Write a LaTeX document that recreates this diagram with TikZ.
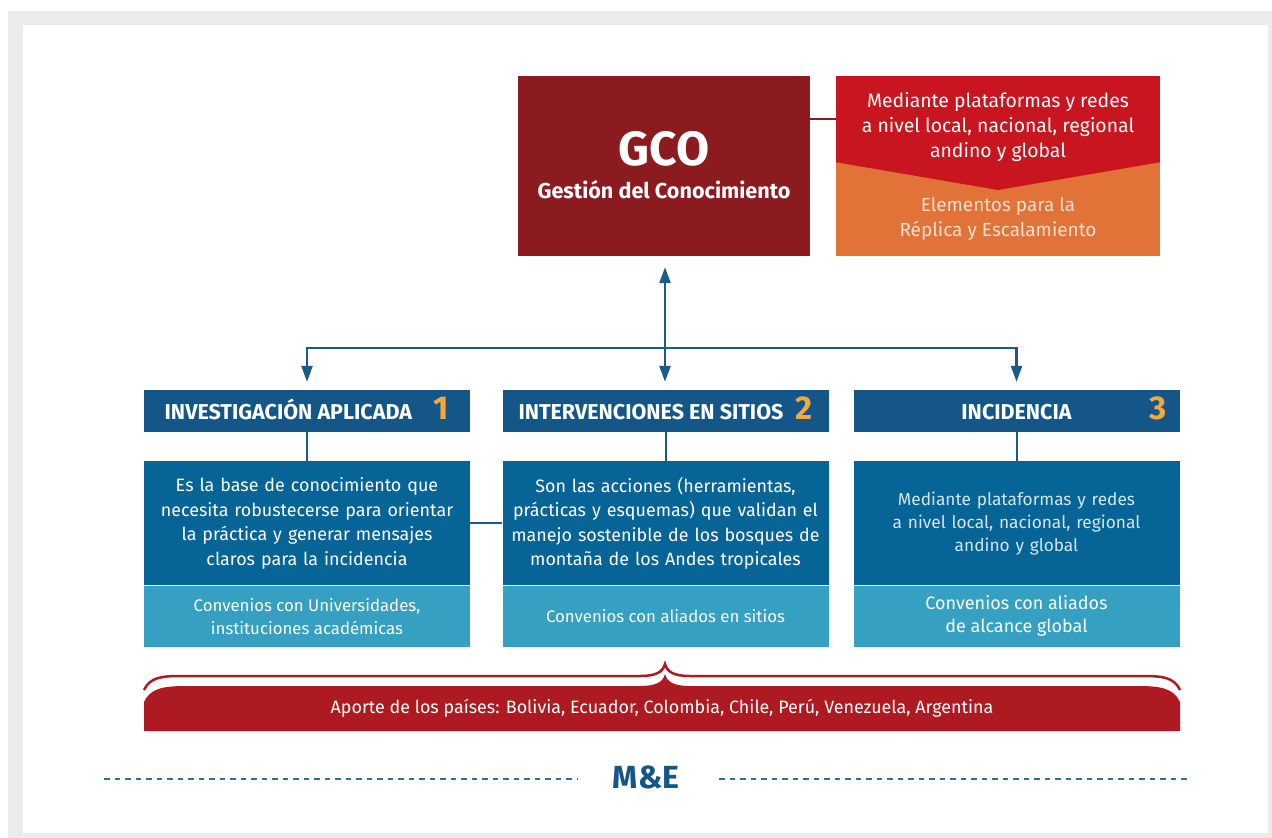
\documentclass[tikz,border=0pt]{standalone}
\usepackage{fontspec}
\setmainfont{Fira Sans}
\usetikzlibrary{arrows.meta,positioning}
\definecolor{gcored}{HTML}{8C1B1F}
\definecolor{platred}{HTML}{C8151F}
\definecolor{elemorange}{HTML}{E27338}
\definecolor{elemtext}{HTML}{FBE0D0}
\definecolor{headblue}{HTML}{135687}
\definecolor{bodyblue}{HTML}{066497}
\definecolor{bodytext}{HTML}{D3E6F0}
\definecolor{convblue}{HTML}{35A0C1}
\definecolor{bandred}{HTML}{AE1A22}
\definecolor{numorange}{HTML}{F5A83A}
\definecolor{linkblue}{HTML}{1B5B8C}
\definecolor{dashblue}{HTML}{2F6E9E}
\definecolor{framegray}{HTML}{EBEBEB}

\begin{document}
\begin{tikzpicture}[x=1pt,y=-1pt,font=\fontsize{17.9}{24.5}\selectfont]
\tikzstyle{every node}=[inner sep=0pt,align=center,text=white]
\tikzstyle{head}=[fill=headblue,minimum width=326pt,minimum height=42pt,text height=16pt,text depth=0pt,font=\bfseries\fontsize{21.5}{22}\selectfont]
\tikzstyle{body}=[fill=bodyblue,minimum width=326pt,minimum height=124pt,text width=316pt]
\tikzstyle{conv}=[fill=convblue,minimum width=326pt,minimum height=61pt,font=\fontsize{16.8}{22.5}\selectfont]
\tikzstyle{num}=[text=numorange,font=\bfseries\fontsize{33}{33}\selectfont]
\tikzstyle{link}=[linkblue,line width=2.5pt]
\tikzstyle{tip}=[-{Triangle[length=16pt,width=11pt]}]
\tikzstyle{melines}=[dashblue,line width=1.5pt,dash pattern=on 5.5pt off 5pt]
\useasboundingbox (0,0) rectangle (1272,838);
\fill[framegray] (8,11) rectangle (1272,838);
\fill[white] (23,25) rectangle (1268,833);

% GCO and the box beside it
\node[fill=gcored,minimum width=292pt,minimum height=180pt] (gco) at (664,166) {};
\node[font=\bfseries\fontsize{48}{50}\selectfont] (gcotitle) at (664,149) {GCO};
\node[font=\bfseries\fontsize{21.6}{24}\selectfont] (gcosub) at (664,190) {Gestión del Conocimiento};
\node[fill=elemorange,minimum width=324pt,minimum height=94pt] (elem) at (998,209) {};
\node[fill=platred,minimum width=324pt,minimum height=86pt] (plat) at (998,119) {};
\fill[platred] (plat.south west) -- (998,190) -- (plat.south east) -- cycle;
\node[font=\fontsize{19.4}{25}\selectfont] (plattxt) at (998,127) {Mediante plataformas y redes\\a nivel local, nacional, regional\\andino y global};
\node[text=elemtext,font=\fontsize{19}{25}\selectfont] (elemtxt) at (998,219) {Elementos para la\\Réplica y Escalamiento};
\draw[gcored,line width=2pt] (gco.east |- plat.west) -- (plat.west);

% the three lines of work
\node[head] (inv) at (307,411) {INVESTIGACIÓN APLICADA\hspace{22pt}{\color{numorange}\fontsize{33}{33}\selectfont 1}};
\node[head] (interv) at (665.5,411) {INTERVENCIONES EN SITIOS\hspace{12pt}{\color{numorange}\fontsize{33}{33}\selectfont 2}};
\node[head] (incid) at (1016.5,411) {INCIDENCIA};
\node[num,anchor=base east] (n3) at ([xshift=-13pt]incid.base east) {3};

\node[body] (invbody) [below=29pt of inv] {Es la base de conocimiento que\\necesita robustecerse para orientar\\la práctica y generar mensajes\\claros para la incidencia};
\node[body] (intervbody) [below=29pt of interv] {Son las acciones (herramientas,\\prácticas y esquemas) que validan el\\manejo sostenible de los bosques de\\montaña de los Andes tropicales};
\node[body,text=bodytext,font=\fontsize{17.3}{23}\selectfont] (incidbody) [below=29pt of incid] {Mediante plataformas y redes\\a nivel local, nacional, regional\\andino y global};

\node[conv] (invconv) [below=0pt of invbody] {Convenios con Universidades,\\instituciones académicas};
\node[conv] (intervconv) [below=0pt of intervbody] {Convenios con aliados en sitios};
\node[conv,font=\fontsize{18}{23}\selectfont] (incidconv) [below=0pt of incidbody] {Convenios con aliados\\de alcance global};

% links
\coordinate (split) at (665,348);
\draw[link,{Triangle[length=16pt,width=11pt]}-{Triangle[length=16pt,width=11pt]}] ([yshift=-11pt]gco.south -| split) -- ([yshift=8pt]interv.north -| split);
\draw[link,tip] (split) -| ([yshift=8pt]inv.north);
\draw[link,tip] (split) -| ([yshift=8pt]incid.north);
\draw[link,line width=2pt] (inv) -- (invbody);
\draw[link,line width=2pt] (interv) -- (intervbody);
\draw[link,line width=2pt] (incid) -- (incidbody);
\draw[link,line width=2pt] (invbody) -- (intervbody);

% brace and band
\draw[bandred,line width=2.5pt] (144,690) .. controls (150,677) and (162,676) .. (182,676) -- (640,676)
  .. controls (656,676) and (663,672) .. (665,664) .. controls (667,672) and (674,676) .. (690,676)
  -- (1142,676) .. controls (1162,676) and (1174,677) .. (1180,690);
\fill[bandred] (144,731) -- (144,702) .. controls (150,689) and (162,686) .. (185,686) -- (640,686)
  .. controls (656,686) and (663,682) .. (665,674) .. controls (667,682) and (674,686) .. (690,686)
  -- (1139,686) .. controls (1162,686) and (1174,689) .. (1180,702) -- (1180,731) -- cycle;
\node[font=\fontsize{17.9}{20}\selectfont] (band) at (662,708) {Aporte de los países: Bolivia, Ecuador, Colombia, Chile, Perú, Venezuela, Argentina};

% M&E
\node[text=headblue,font=\bfseries\fontsize{32}{34}\selectfont] (me) at (646,777) {M\&E};
\coordinate (meleft) at (104,779);
\coordinate (meright) at (1190,779);
\draw[melines] (meleft) -- ([xshift=-35pt]me.west |- meleft);
\draw[melines] ([xshift=40pt]me.east |- meright) -- (meright);
\end{tikzpicture}
\end{document}
